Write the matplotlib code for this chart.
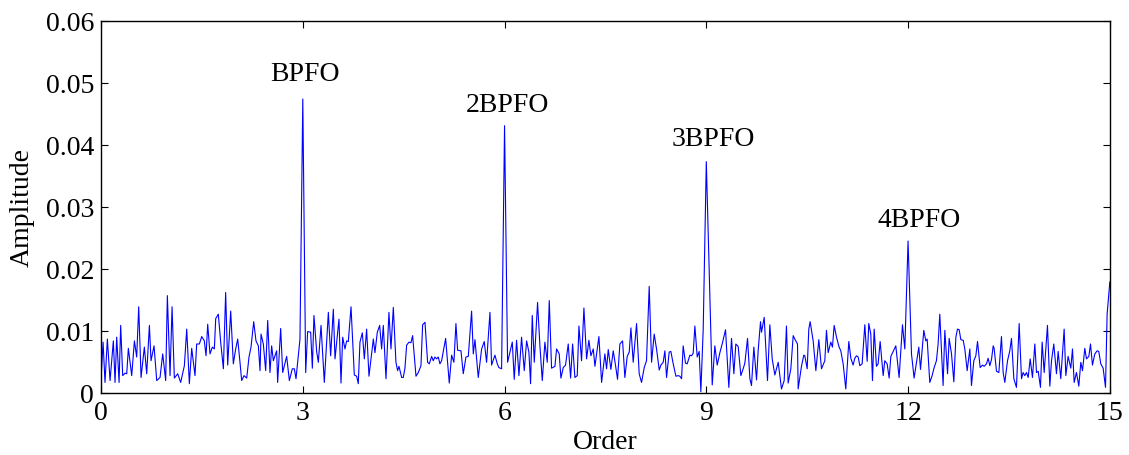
import matplotlib
matplotlib.use("Agg")
import matplotlib.pyplot as plt

# Order spectrum of the outer-race fault signal (order, amplitude in 1e-3)
order = [
    0.000, 0.030, 0.059, 0.094, 0.134, 0.183, 0.208, 0.233, 0.268, 0.292,
    0.322, 0.357, 0.382, 0.406, 0.456, 0.496, 0.530, 0.560, 0.595, 0.644,
    0.679, 0.719, 0.743, 0.788, 0.828, 0.877, 0.917, 0.961, 0.986, 1.026,
    1.056, 1.090, 1.140, 1.184, 1.239, 1.274, 1.313, 1.348, 1.397, 1.422,
    1.462, 1.497, 1.536, 1.561, 1.586, 1.620, 1.655, 1.685, 1.705, 1.744,
    1.779, 1.819, 1.853, 1.883, 1.928, 1.967, 2.002, 2.032, 2.066, 2.091,
    2.126, 2.166, 2.200, 2.230, 2.270, 2.304, 2.339, 2.364, 2.379, 2.413,
    2.448, 2.478,
    2.512, 2.537, 2.562, 2.611, 2.626, 2.671, 2.701, 2.760, 2.800, 2.844,
    2.874, 2.899, 2.958, 3.000, 3.043, 3.072, 3.117, 3.142, 3.166, 3.206,
    3.231, 3.271, 3.320, 3.380, 3.414, 3.454, 3.479, 3.538, 3.568, 3.593,
    3.627, 3.652, 3.677, 3.717, 3.766, 3.801, 3.825, 3.850, 3.885, 3.915,
    3.949, 3.984, 4.014, 4.049, 4.073, 4.108, 4.143, 4.172, 4.197, 4.237,
    4.281, 4.311, 4.346, 4.385, 4.410, 4.430, 4.470, 4.494, 4.519, 4.544,
    4.579, 4.608, 4.633, 4.683, 4.717, 4.757, 4.782, 4.817, 4.856, 4.881,
    4.916, 4.940,
    4.965, 4.990, 5.015, 5.039, 5.064, 5.124, 5.178, 5.213, 5.247, 5.277,
    5.302, 5.352, 5.386, 5.426, 5.461, 5.510, 5.535, 5.560, 5.609, 5.659,
    5.698, 5.733, 5.783, 5.807, 5.857, 5.892, 5.916, 5.956, 6.000, 6.045,
    6.115, 6.144, 6.179, 6.214, 6.253, 6.293, 6.328, 6.362, 6.387, 6.412,
    6.442, 6.491, 6.526, 6.561, 6.600, 6.635, 6.665, 6.699, 6.749, 6.774,
    6.813, 6.838, 6.873, 6.907, 6.947, 6.982, 7.012, 7.046, 7.081, 7.106,
    7.145, 7.180, 7.220, 7.254, 7.284, 7.319, 7.344, 7.403, 7.443,
    7.492, 7.517, 7.542, 7.581, 7.616, 7.651, 7.680, 7.715, 7.755, 7.789,
    7.824, 7.854, 7.879, 7.913, 7.963, 8.002, 8.037, 8.077, 8.111, 8.151,
    8.186, 8.225, 8.260, 8.300, 8.325, 8.359, 8.384, 8.409, 8.448, 8.473,
    8.508, 8.548, 8.582, 8.607, 8.632, 8.656, 8.691, 8.716, 8.756, 8.780,
    8.805, 8.830, 8.865, 8.894, 8.919, 8.954, 9.000, 9.088, 9.127, 9.162,
    9.202, 9.236, 9.286, 9.335, 9.375, 9.410, 9.439, 9.474, 9.514, 9.548,
    9.573, 9.613, 9.648, 9.672, 9.707, 9.747, 9.771, 9.806, 9.821, 9.861,
    9.910, 9.945, 9.980,
    10.019, 10.069, 10.118, 10.158, 10.192, 10.217, 10.257, 10.292, 10.316,
    10.356, 10.366, 10.415, 10.450, 10.465, 10.500, 10.524, 10.544, 10.589,
    10.629, 10.673, 10.713, 10.762, 10.787, 10.812, 10.851, 10.876, 10.901,
    10.936, 10.975, 11.000, 11.035, 11.074, 11.119, 11.149, 11.183, 11.208,
    11.233, 11.258, 11.283, 11.317, 11.357, 11.392, 11.416, 11.446, 11.471,
    11.496, 11.530, 11.555, 11.585, 11.630, 11.654, 11.689, 11.719, 11.744,
    11.783, 11.818, 11.867, 11.917, 11.952, 12.000, 12.051, 12.090, 12.125,
    12.160, 12.185, 12.234, 12.264, 12.284, 12.323, 12.358, 12.388, 12.422,
    12.447, 12.472, 12.521,
    12.547, 12.587, 12.611, 12.646, 12.681, 12.711, 12.735, 12.760, 12.785,
    12.820, 12.844, 12.879, 12.919, 12.943, 12.978, 13.008, 13.033, 13.072,
    13.107, 13.132, 13.166, 13.191, 13.216, 13.241, 13.266, 13.280, 13.315,
    13.350, 13.389, 13.414, 13.439, 13.479, 13.513, 13.538, 13.573, 13.612,
    13.652, 13.687, 13.711, 13.736, 13.761, 13.786, 13.816, 13.850, 13.885,
    13.910, 13.935, 13.969, 13.994, 14.024, 14.073, 14.108, 14.133, 14.167,
    14.207, 14.232, 14.271, 14.321, 14.346, 14.380, 14.420, 14.445, 14.470,
    14.504, 14.539, 14.569, 14.594, 14.628, 14.653, 14.688, 14.713, 14.742,
    14.777, 14.812, 14.836, 14.866, 14.901, 14.936, 14.960, 15.000,
]

amp_milli = [
    2.3, 8.2, 1.7, 8.7, 2.0, 8.4, 1.7, 9.0, 1.7, 10.9,
    2.8, 3.2, 3.1, 7.2, 2.8, 8.4, 5.8, 13.9, 2.5, 7.4,
    3.1, 10.9, 5.2, 7.6, 2.0, 2.5, 6.3, 2.0, 15.7, 2.8,
    13.9, 2.4, 3.1, 1.7, 4.4, 10.3, 1.5, 7.2, 2.8, 7.9,
    7.9, 9.1, 8.4, 6.0, 11.1, 6.3, 7.4, 7.1, 12.0, 12.7,
    8.2, 3.9, 16.2, 4.5, 13.2, 4.7, 7.1, 8.7, 4.95, 2.0,
    2.8, 2.4, 5.8, 7.4, 11.5, 8.4, 7.6, 3.6, 9.5, 7.9,
    3.6, 11.7,
    3.3, 7.6, 5.2, 6.8, 1.7, 10.4, 3.3, 5.9, 2.0, 3.9,
    3.9, 2.3, 8.7, 47.4, 3.3, 9.9, 9.8, 4.0, 12.5, 6.7,
    4.95, 10.9, 1.7, 13.0, 6.0, 13.5, 5.5, 11.9, 1.6, 9.0,
    7.1, 8.4, 8.3, 13.9, 2.9, 2.7, 1.5, 8.2, 9.7, 5.5,
    10.3, 2.7, 5.5, 8.7, 6.5, 9.8, 10.9, 7.1, 10.9, 2.3,
    13.0, 7.1, 13.8, 4.95, 3.6, 4.3, 2.5, 2.5, 4.0, 7.7,
    8.2, 8.1, 9.25, 2.7, 3.3, 4.4, 11.0, 11.4, 4.95, 4.7,
    5.9, 5.2,
    5.8, 5.5, 5.8, 4.7, 5.2, 8.8, 1.6, 6.1, 4.95, 11.2,
    6.9, 6.8, 3.1, 5.8, 5.9, 13.2, 6.3, 8.6, 2.5, 7.1,
    8.3, 4.95, 13.0, 4.5, 6.1, 4.7, 4.1, 3.9, 43.1, 4.95,
    8.2, 2.2, 8.5, 2.8, 9.0, 3.6, 8.4, 6.6, 1.5, 12.5,
    4.95, 14.6, 7.6, 2.0, 8.2, 4.95, 14.9, 4.0, 4.3, 7.1,
    6.3, 2.4, 4.1, 4.5, 7.9, 2.4, 7.9, 2.5, 2.8, 10.8,
    5.2, 13.7, 5.5, 8.5, 6.0, 7.1, 4.3, 9.1, 1.7,
    6.3, 3.9, 7.0, 3.8, 6.8, 4.4, 2.2, 7.9, 8.4, 2.5,
    5.9, 6.6, 10.5, 4.95, 11.2, 3.1, 1.7, 4.1, 5.2, 17.2,
    4.95, 9.5, 7.1, 3.7, 4.5, 4.95, 6.8, 2.5, 6.6, 6.7,
    4.7, 2.7, 2.8, 2.7, 2.3, 7.6, 4.8, 4.7, 6.1, 6.0,
    6.4, 10.8, 5.8, 6.7, 0.2, 10.3, 37.3, 1.3, 7.6, 4.5,
    6.5, 7.9, 10.2, 0.9, 8.8, 3.1, 7.9, 7.5, 2.8, 3.9,
    4.8, 8.8, 2.3, 1.2, 7.4, 2.1, 6.8, 11.5, 9.8, 12.2,
    2.0, 11.0, 5.5,
    2.9, 4.95, 0.65, 2.0, 10.8, 1.6, 3.9, 9.25, 8.7,
    7.9, 0.65, 4.3, 6.1, 6.0, 3.9, 10.3, 11.5, 8.4,
    3.6, 8.6, 3.9, 5.2, 10.1, 6.5, 8.2, 7.4, 10.9,
    9.0, 7.4, 6.8, 4.7, 0.65, 8.3, 5.6, 4.5, 5.6,
    6.0, 5.8, 4.4, 4.7, 11.0, 5.1, 11.2, 9.5, 2.0,
    10.3, 4.3, 4.7, 8.3, 2.8, 5.2, 4.7, 2.4, 5.9,
    6.8, 7.6, 2.5, 11.0, 7.1, 24.5, 6.3, 2.4, 4.95,
    7.4, 3.8, 10.1, 8.4, 8.7, 1.7, 2.8, 4.1, 5.2,
    7.9, 12.7, 1.2,
    10.1, 3.1, 8.8, 6.3, 1.8, 9.0, 10.3, 10.2, 8.6,
    8.5, 7.1, 3.6, 7.1, 1.2, 5.2, 6.0, 8.3, 4.1,
    4.5, 4.3, 4.7, 5.6, 4.4, 5.4, 7.6, 7.2, 3.5,
    3.3, 9.1, 3.3, 1.7, 5.2, 6.8, 8.8, 2.3, 0.9,
    11.2, 2.3, 3.3, 2.8, 3.3, 2.5, 5.5, 2.5, 7.9,
    3.3, 3.5, 0.9, 8.2, 3.3, 10.9, 1.1, 5.2, 7.9,
    3.1, 6.7, 2.3, 10.3, 2.8, 5.9, 4.0, 7.1, 1.7,
    3.3, 1.1, 4.95, 3.6, 7.2, 5.5, 5.9, 7.9, 4.5,
    6.3, 6.8, 6.7, 4.7, 4.0, 0.9, 12.7, 17.9,
]

peak_labels = ["BPFO", "2BPFO", "3BPFO", "4BPFO"]
label_x = [3.03, 6.04, 9.11, 12.16]
label_y = [0.0515, 0.0465, 0.0411, 0.0279]

x_ticks = [0, 3, 6, 9, 12, 15]
y_ticks = [0, 0.01, 0.02, 0.03, 0.04, 0.05, 0.06]
y_tick_labels = ["0", "0.01", "0.02", "0.03", "0.04", "0.05", "0.06"]

plt.rcParams["font.family"] = ["Liberation Serif", "DejaVu Serif"]
plt.rcParams["font.size"] = 20

fig = plt.figure(figsize=(11.29, 4.56), dpi=100)
ax = fig.add_axes([0.0895, 0.136, 0.8935, 0.816])

amplitude = [a * 1e-3 for a in amp_milli]
ax.plot(order, amplitude, color="#0000ff", linewidth=0.8)

for text, tx, ty in zip(peak_labels, label_x, label_y):
    ax.text(tx, ty, text, ha="center", va="center", fontsize=20)

ax.set_xlim(0, 15)
ax.set_ylim(0, 0.06)
ax.set_xticks(x_ticks)
ax.set_xticklabels([str(t) for t in x_ticks])
ax.set_yticks(y_ticks)
ax.set_yticklabels(y_tick_labels)
ax.tick_params(direction="in", top=True, right=True, length=5, width=0.8,
               labelsize=20, pad=5)
for spine in ax.spines.values():
    spine.set_linewidth(1.0)
    spine.set_color("black")

ax.set_xlabel("Order", fontsize=20, labelpad=3)
ax.set_ylabel("Amplitude", fontsize=20, labelpad=8)

fig.savefig("out.png", dpi=100)
